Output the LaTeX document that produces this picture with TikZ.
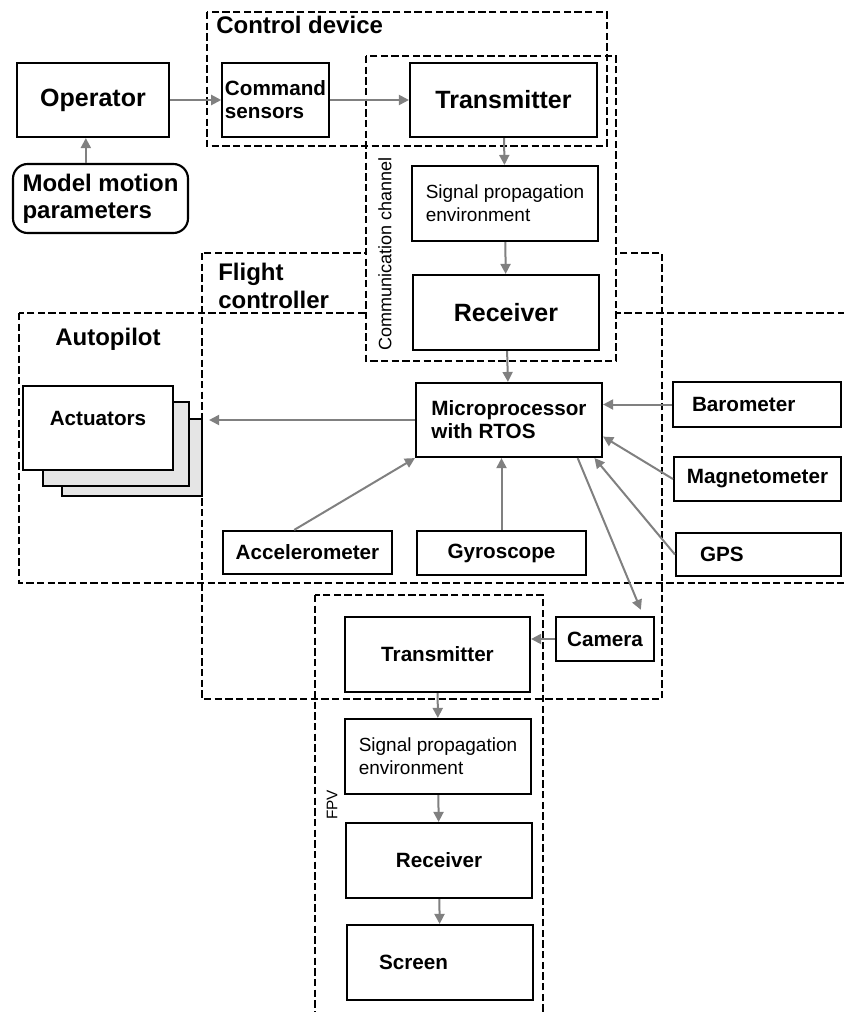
\documentclass[tikz,border=0pt]{standalone}
\usepackage{fontspec}
\setmainfont{Liberation Sans}
\usetikzlibrary{arrows.meta}

\definecolor{arrowgray}{RGB}{128,128,128}

\begin{document}
\begin{tikzpicture}[
  x=0.75pt, y=-0.75pt,
  box/.style 2 args={rectangle, draw, line width=1.6pt, fill=white,
    minimum width=#1, minimum height=#2, align=center, inner sep=2pt},
  bigtext/.style={font=\fontsize{18.75}{21}\selectfont\bfseries},
  midtext/.style={font=\fontsize{15.5}{17.25}\selectfont\bfseries},
  lighttext/.style={font=\fontsize{14.25}{17.25}\selectfont},
  grouplabel/.style={font=\fontsize{18}{21}\selectfont\bfseries, inner sep=0pt, align=left},
  region/.style={draw, line width=1.6pt, dash pattern=on 5.5pt off 2.5pt},
  arr/.style={draw=arrowgray, line width=1.5pt, -{Triangle[length=7.5pt, width=7.5pt]}}
]
\useasboundingbox (0,0) rectangle (843,1012);

% dashed groups
\draw[region] (19,313) rectangle (850,583);   % autopilot
\draw[region] (202,253) rectangle (662,699);  % flight controller
\draw[region, fill=white] (366,56) rectangle (616,361); % communication channel
\draw[region] (207,12) rectangle (607,146);   % control device
\draw[region] (315,595) rectangle (543,1020); % FPV

\node[grouplabel, anchor=west] (ctrllabel) at (216,25) {Control device};
\node[grouplabel, anchor=west] (fclabel) at (218,286) {Flight\\controller};
\node[grouplabel, anchor=west] (aplabel) at (55,339) {Autopilot};
\node[rotate=90, font=\fontsize{13.5}{15}\selectfont, inner sep=0pt] (commlabel) at (385,254) {Communication channel};
\node[rotate=90, font=\fontsize{11.5}{13}\selectfont, inner sep=0pt] (fpvlabel) at (332,805) {FPV};

% operator side
\node[box={114pt}{55.5pt}, bigtext] (operator) at (93,100) {Operator};
\node[box={131.25pt}{51.75pt}, rounded corners=11pt, align=left,
  font=\fontsize{18}{20.25}\selectfont\bfseries] (model) at (100.5,198.5) {Model motion\\parameters};
\node[box={78.75pt}{55.5pt}, midtext, align=left] (cmdsens) at (275.5,100) {Command\\sensors};

% radio link
\node[box={140.25pt}{55.5pt}, bigtext] (tx) at (503.5,100) {Transmitter};
\node[box={139.5pt}{56.25pt}, lighttext, align=left] (sigprop) at (505,203.5) {Signal propagation\\environment};
\node[box={139.5pt}{56.25pt}, bigtext] (rx) at (506,312.5) {Receiver};

% flight controller
\node[box={139.5pt}{55.5pt}, midtext, align=left] (mcu) at (509,420) {Microprocessor\\with RTOS};
\node[box={126pt}{33.75pt}, midtext, text width=97.5pt, inner xsep=14.25pt, align=left] (baro) at (757,404.5) {Barometer};
\node[box={125.25pt}{33pt}, midtext] (magneto) at (757.5,479) {Magnetometer};
\node[box={123.75pt}{32.25pt}, midtext, text width=87.75pt, inner xsep=18pt, align=left] (gps) at (758.5,554.5) {GPS};
\node[box={126.75pt}{33pt}, midtext] (gyro) at (501.5,553) {Gyroscope};
\node[box={126.75pt}{32.25pt}, midtext] (accel) at (307.5,552.5) {Accelerometer};

% actuators stack
\node[box={105pt}{57.75pt}, fill=gray!20] (act3) at (132,457.5) {};
\node[box={109.5pt}{63pt}, fill=gray!20] (act2) at (116,444) {};
\node[box={112.5pt}{63pt}, midtext, text depth=15pt] (act1) at (98,428) {Actuators};

% FPV chain
\node[box={73.5pt}{33pt}, midtext] (camera) at (605,639) {Camera};
\node[box={138.75pt}{56.25pt}, midtext] (tx2) at (437.5,654.5) {Transmitter};
\node[box={139.5pt}{56.25pt}, lighttext, align=left] (sig2) at (438,756.5) {Signal propagation\\environment};
\node[box={139.5pt}{56.25pt}, midtext] (rx2) at (439,860.5) {Receiver};
\node[box={139.5pt}{56.25pt}, midtext, text width=91.5pt, inner xsep=24pt, align=left] (screen) at (440,962.5) {Screen};

% connections
\draw[arr] (operator) -- (cmdsens);
\draw[arr] ([xshift=-11pt]model.north) -- ([xshift=-11pt]model.north |- operator.south);
\draw[arr] (cmdsens) -- (tx);
\draw[arr] (tx) -- (sigprop);
\draw[arr] (sigprop) -- (rx);
\draw[arr] (rx) -- (mcu);
\draw[arr, shorten >=4.5pt] (mcu.west) -- (mcu.west -| act3.east);
\draw[arr] ([xshift=-10pt]accel.north) -- (mcu.south west);
\draw[arr] (gyro.north) -- (gyro.north |- mcu.south);
\draw[arr] (baro.west) -- (baro.west -| mcu.east);
\draw[arr] (magneto.west) -- (mcu.-10);
\draw[arr] (gps.west) -- (mcu.-24);
\draw[arr, shorten >=5pt] (mcu.-29) -- (camera.31);
\draw[arr] (camera.west) -- (camera.west -| tx2.east);
\draw[arr] (tx2) -- (sig2);
\draw[arr] (sig2) -- (rx2);
\draw[arr] (rx2) -- (screen);
\end{tikzpicture}
\end{document}
